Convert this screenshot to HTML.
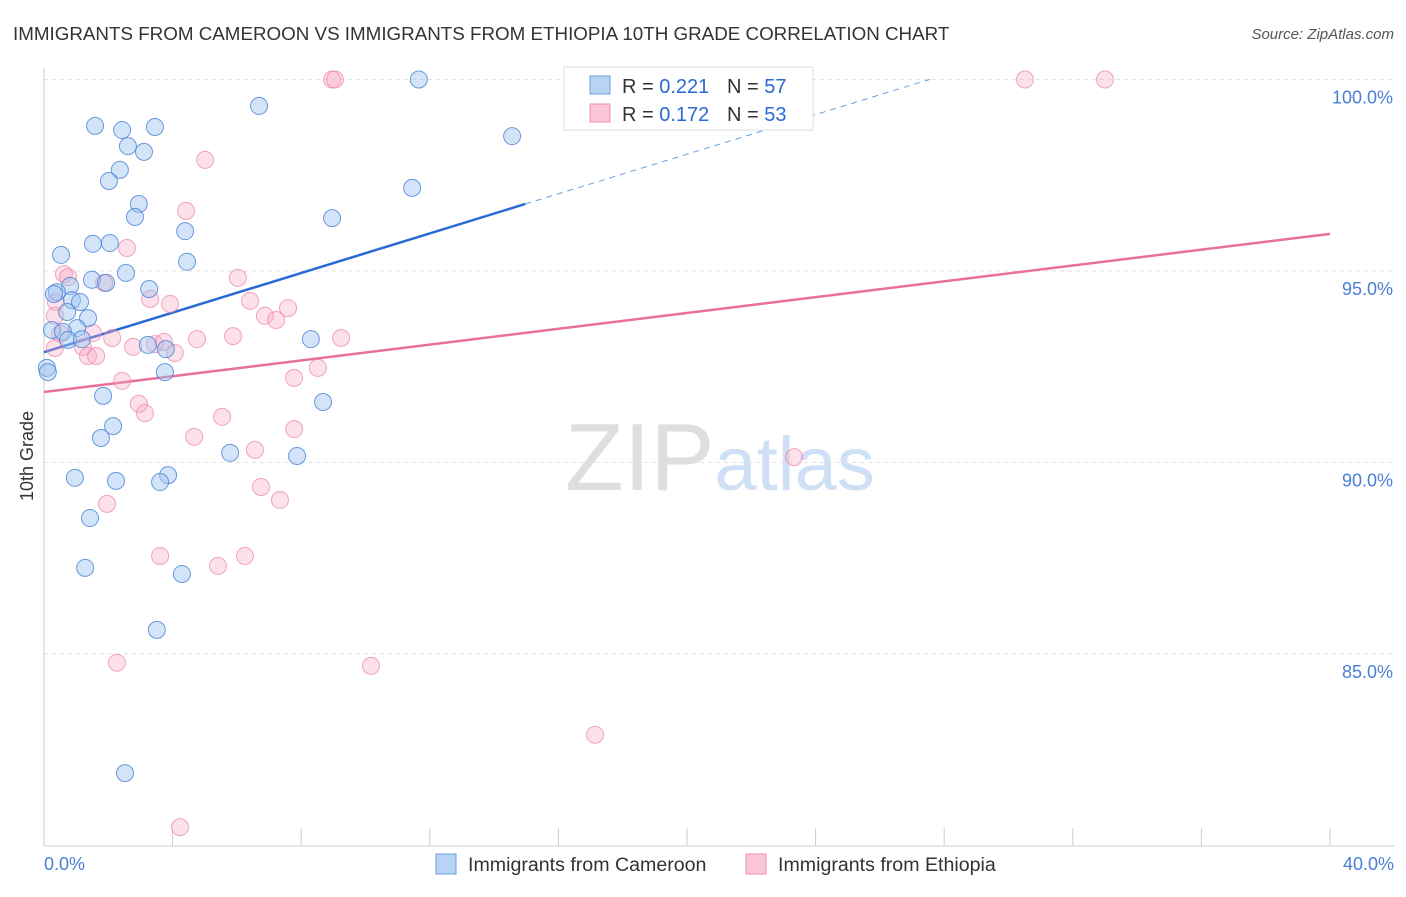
<!DOCTYPE html>
<html><head><meta charset="utf-8"><style>
body{margin:0;background:#fff;font-family:"Liberation Sans",sans-serif;}
svg text{font-family:"Liberation Sans",sans-serif;}
</style></head><body>
<svg id="chart" width="1406" height="892" xmlns="http://www.w3.org/2000/svg">
<text x="13" y="40" font-size="18.8" fill="#333">IMMIGRANTS FROM CAMEROON VS IMMIGRANTS FROM ETHIOPIA 10TH GRADE CORRELATION CHART</text>
<text x="1394" y="39" font-size="15" fill="#555" text-anchor="end" font-style="italic">Source: ZipAtlas.com</text>
<text x="720" y="490" font-size="96" text-anchor="middle" font-family="Liberation Serif"><tspan fill="#dedede">ZIP</tspan><tspan fill="#d0e0f4" font-family="Liberation Sans" font-size="76">atlas</tspan></text>
<text transform="translate(33,456) rotate(-90)" font-size="18" fill="#333" text-anchor="middle">10th Grade</text>
<g id="grid"></g><g id="axes"></g><g id="trends"></g><g id="points"></g>
<g>
<rect x="564" y="67" width="249" height="63" fill="#fff" stroke="#ddd"/>
<rect x="590" y="76" width="20" height="18" fill="#b8d4f4" stroke="#6a9fe0"/>
<rect x="590" y="104" width="20" height="18" fill="#fbc6d6" stroke="#ef8fb0"/>
<text x="622" y="93" font-size="20" fill="#333">R = <tspan fill="#2a6ad4">0.221</tspan><tspan x="727">N = </tspan><tspan fill="#2a6ad4">57</tspan></text>
<text x="622" y="121" font-size="20" fill="#333">R = <tspan fill="#2a6ad4">0.172</tspan><tspan x="727">N = </tspan><tspan fill="#2a6ad4">53</tspan></text>
</g>
<g>
<rect x="436" y="854" width="20" height="20" fill="#b8d4f4" stroke="#6a9fe0"/>
<text x="468" y="871" font-size="19.6" fill="#333">Immigrants from Cameroon</text>
<rect x="746" y="854" width="20" height="20" fill="#fbc6d6" stroke="#ef8fb0"/>
<text x="778" y="871" font-size="19.6" fill="#333">Immigrants from Ethiopia</text>
</g>
</svg>
<script>
const xTicks=[0,4,8,12,16,20,24,28,32,36,40];
const yGrid=[85,90,95,100];
const yTickLabels=["85.0%","90.0%","95.0%","100.0%"];
const cameroonX=[11.66,6.69,1.59,2.43,3.45,14.56,2.61,3.11,2.36,2.02,11.45,2.95,2.83,8.96,4.39,1.52,2.05,0.53,4.45,2.55,1.49,1.93,3.27,0.81,0.40,0.31,0.87,1.12,0.72,1.37,0.25,1.03,0.59,0.75,1.18,8.30,3.23,3.79,0.09,0.12,3.76,8.68,1.84,2.15,1.77,5.79,7.87,0.96,2.24,3.86,3.61,1.43,1.28,4.29,3.51,2.52];
const cameroonY=[100.0,99.31,98.79,98.68,98.76,98.52,98.26,98.11,97.64,97.35,97.17,96.75,96.41,96.38,96.04,95.71,95.73,95.42,95.24,94.95,94.77,94.69,94.53,94.61,94.45,94.40,94.24,94.19,93.93,93.77,93.46,93.51,93.41,93.20,93.22,93.22,93.07,92.96,92.47,92.36,92.36,91.58,91.74,90.95,90.64,90.25,90.17,89.60,89.52,89.67,89.49,88.55,87.25,87.09,85.63,81.89];
const ethiopiaX=[8.96,9.05,30.51,33.00,5.01,4.42,2.58,0.62,0.75,6.03,1.87,3.30,3.92,6.41,7.59,6.87,7.22,0.37,0.34,0.50,1.52,2.12,5.88,9.24,4.76,2.77,1.21,3.45,3.73,4.07,0.34,1.37,1.62,8.52,7.78,2.43,2.95,3.14,5.54,7.78,4.67,6.56,23.33,6.75,7.34,1.96,3.61,6.25,5.41,2.27,10.17,17.14,4.23];
const ethiopiaY=[100.0,100.0,100.0,100.0,97.90,96.57,95.60,94.92,94.84,94.82,94.69,94.27,94.14,94.22,94.03,93.83,93.72,94.19,93.83,93.36,93.38,93.25,93.30,93.25,93.22,93.02,93.02,93.09,93.15,92.86,92.99,92.78,92.78,92.47,92.21,92.13,91.53,91.29,91.19,90.87,90.67,90.33,90.14,89.36,89.02,88.92,87.56,87.56,87.30,84.77,84.69,82.89,80.48];
const cameroonTrend=[92.88,0.2585,14.97,27.56];
const ethiopiaTrend=[91.84,0.10325];
const X=v=>44+v/40*1286, Y=v=>79.5+(100-v)*38.3;
const NS="http://www.w3.org/2000/svg";
function mk(t,a,p){const e=document.createElementNS(NS,t);for(const k in a)e.setAttribute(k,a[k]);document.getElementById(p).appendChild(e);return e;}
yGrid.forEach((v,i)=>{
 const l=mk('line',{x1:44,x2:1394,y1:Y(v),y2:Y(v),stroke:'#e2e2e2','stroke-dasharray':'4,4'},'grid');
 
 
 const t=mk('text',{x:1393,y:Y(v)+24,'font-size':18,fill:'#4a7fd6','text-anchor':'end'},'grid');t.textContent=yTickLabels[i];
 
 
});
const ax=mk('line',{x1:44,x2:44,y1:68,y2:846,stroke:'#ccc'},'axes');


const bx=mk('line',{x1:44,x2:1394,y1:846,y2:846,stroke:'#ccc'},'axes');


xTicks.forEach(v=>{const t=mk('line',{x1:X(v),x2:X(v),y1:828,y2:846,stroke:'#ccc'},'axes');
 
 });
[[0,'0.0%','start',44],[40,'40.0%','end',1394]].forEach(d=>{const t=mk('text',{x:d[3],y:870,'font-size':18,fill:'#4a7fd6','text-anchor':d[2]},'axes');t.textContent=d[1];
 
 });
const ct=cameroonTrend;
const b1=mk('line',{x1:X(0),y1:Y(ct[0]),x2:X(ct[2]),y2:Y(ct[0]+ct[1]*ct[2]),stroke:'#2a6ad4','stroke-width':2.5},'trends');


const b2=mk('line',{x1:X(ct[2]),y1:Y(ct[0]+ct[1]*ct[2]),x2:X(ct[3]),y2:Y(ct[0]+ct[1]*ct[3]),stroke:'#6a9fe0','stroke-width':1,'stroke-dasharray':'6,5'},'trends');


const p1=mk('line',{x1:X(0),y1:Y(ethiopiaTrend[0]),x2:X(40),y2:Y(ethiopiaTrend[0]+ethiopiaTrend[1]*40),stroke:'#e8709a','stroke-width':2.5},'trends');


ethiopiaX.forEach((x,i)=>{const c=mk('circle',{cx:X(x),cy:Y(ethiopiaY[i]),r:8.5,fill:'rgba(248,170,195,0.35)',stroke:'rgba(232,130,165,0.7)','stroke-width':1},'points');
 
 });
cameroonX.forEach((x,i)=>{const c=mk('circle',{cx:X(x),cy:Y(cameroonY[i]),r:8.5,fill:'rgba(160,195,240,0.45)',stroke:'rgba(70,130,215,0.8)','stroke-width':1},'points');
 
 });
</script>
</body></html>
